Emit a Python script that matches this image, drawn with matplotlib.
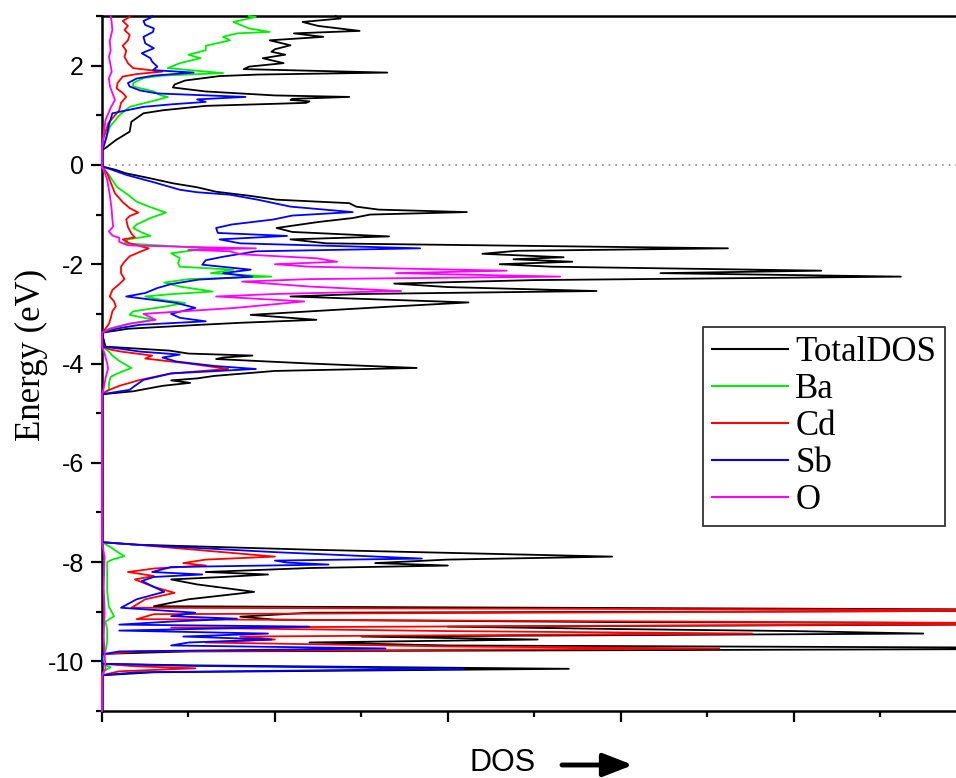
import matplotlib
matplotlib.use("Agg")
import matplotlib.pyplot as plt
from matplotlib.ticker import MultipleLocator

plt.rcParams['axes.unicode_minus'] = False

# Projected density of states: energy (eV) and DOS (arb. units) per species
total_E = [3.00, 2.95, 2.88, 2.80, 2.70, 2.65, 2.58, 2.51, 2.41, 2.33, 2.28, 2.22, 2.15, 2.05, 1.98, 1.93,
           1.86, 1.82, 1.79, 1.70, 1.62, 1.56, 1.48, 1.40, 1.37, 1.33, 1.31, 1.28, 1.25, 1.19, 1.10, 1.04,
           0.87, 0.67, 0.50, 0.34, 0.30,
           -0.03, -0.10, -0.17, -0.27, -0.37, -0.45, -0.54, -0.62, -0.70, -0.77, -0.84, -0.90, -0.95, -1.00,
           -1.07, -1.15, -1.27, -1.35, -1.44, -1.50, -1.58, -1.68, -1.73, -1.79, -1.86, -1.90, -1.95, -2.00,
           -2.05, -2.13, -2.18, -2.25, -2.32, -2.39, -2.46, -2.54, -2.60, -2.65, -2.77, -2.86, -2.95, -3.02,
           -3.12, -3.18, -3.22, -3.30, -3.38,
           -3.66, -3.70, -3.74, -3.80, -3.84, -3.88, -3.91, -4.00, -4.09, -4.15, -4.25, -4.30, -4.34, -4.39,
           -4.45, -4.56, -4.62,
           -7.60, -7.65, -7.75, -7.89, -7.95, -8.02, -8.07, -8.12, -8.20, -8.25, -8.30, -8.35, -8.45, -8.60,
           -8.75, -8.89, -8.94, -8.97, -9.02, -9.10, -9.16, -9.21, -9.24, -9.30, -9.35, -9.39, -9.44, -9.50,
           -9.56, -9.62, -9.68, -9.74, -9.80, -9.85, -10.05, -10.08, -10.15, -10.22, -10.28, -11.00]
total_dos = [13.5, 13.8, 11.6, 12.5, 14.9, 11.1, 12.8, 9.7, 10.9, 10.0, 9.8, 10.6, 9.3, 10.5, 8.5, 8.2,
             16.5, 9.0, 6.8, 4.8, 4.2, 4.1, 6.0, 10.0, 14.3, 11.0, 10.9, 12.0, 11.8, 6.0, 3.5, 2.4,
             1.7, 1.6, 0.8, 0.2, 0.0,
             0.0, 0.8, 1.4, 2.8, 4.1, 5.5, 6.6, 8.5, 10.1, 14.3, 14.7, 16.0, 21.1, 15.5,
             14.5, 12.5, 10.1, 11.0, 16.6, 10.9, 13.0, 36.2, 24.0, 22.0, 26.7, 23.8, 27.2, 23.0,
             26.0, 41.6, 32.3, 46.2, 25.0, 16.9, 20.0, 28.6, 15.0, 10.9, 21.2, 16.4, 12.0, 8.6,
             12.4, 8.0, 5.7, 1.5, 0.0,
             0.2, 2.0, 3.9, 5.0, 8.7, 7.0, 6.6, 12.0, 18.2, 10.0, 6.5, 5.5, 4.0, 5.1,
             3.5, 1.8, 0.0,
             0.0, 2.0, 12.0, 29.5, 20.0, 15.8, 20.0, 12.0, 6.0, 9.6, 7.0, 4.0, 5.5, 8.8,
             5.0, 3.0, 40.0, 65.0, 12.0, 8.0, 10.0, 30.0, 65.0, 20.0, 30.0, 40.0, 47.5, 15.0,
             25.2, 12.0, 20.0, 65.0, 5.0, 0.0, 0.0, 5.0, 27.0, 3.0, 0.0, 0.0]

ba_E = [3.00, 2.98, 2.88, 2.75, 2.68, 2.65, 2.58, 2.51, 2.40, 2.31, 2.22, 2.15, 2.05, 1.95, 1.85, 1.80,
        1.75, 1.65, 1.58, 1.48, 1.40, 1.37, 1.31, 1.25, 1.17, 1.00, 0.77, 0.50, 0.35,
        -0.05, -0.20, -0.44, -0.60, -0.74, -0.85, -0.96, -1.07, -1.20, -1.27, -1.36, -1.43, -1.50, -1.58,
        -1.68, -1.78, -1.88, -1.98, -2.05, -2.11, -2.18, -2.25, -2.30, -2.37, -2.45, -2.55, -2.60, -2.65,
        -2.72, -2.78, -2.85, -2.95, -3.02, -3.12, -3.20, -3.30, -3.38,
        -3.66, -3.76, -3.84, -3.95, -4.09, -4.20, -4.27, -4.40, -4.53, -4.62,
        -7.60, -7.70, -7.82, -7.88, -7.95, -8.00, -8.30, -8.60, -8.90, -9.09, -9.20, -9.35, -9.45, -9.60,
        -9.80, -10.05, -10.12, -10.20, -10.30, -11.00]
ba_dos = [8.5, 8.9, 7.6, 8.5, 9.7, 7.8, 7.0, 7.4, 6.0, 6.0, 5.0, 5.7, 4.5, 3.8, 7.0, 3.5,
          2.4, 1.8, 1.8, 3.0, 3.4, 3.8, 3.2, 2.5, 1.6, 1.0, 0.46, 0.2, 0.0,
          0.0, 0.4, 0.85, 1.5, 2.0, 2.8, 3.7, 2.8, 2.0, 1.8, 2.3, 2.8, 1.5, 1.3,
          6.2, 4.0, 4.5, 4.4, 4.5, 7.6, 6.3, 9.8, 5.0, 3.6, 4.5, 6.4, 4.1, 2.5,
          3.5, 4.8, 3.7, 1.8, 1.6, 3.0, 1.5, 0.4, 0.0,
          0.0, 0.4, 0.6, 1.0, 1.7, 0.9, 0.5, 0.4, 0.4, 0.0,
          0.0, 0.5, 1.0, 1.3, 0.6, 0.3, 0.3, 0.3, 0.4, 0.7, 0.2, 0.3, 0.3, 0.3,
          0.2, 0.0, 0.5, 0.1, 0.0, 0.0]

cd_E = [3.00, 2.98, 2.90, 2.80, 2.72, 2.62, 2.51, 2.40, 2.30, 2.18, 2.05, 1.95, 1.88, 1.83, 1.78, 1.65,
        1.54, 1.45, 1.37, 1.25, 1.10, 0.84, 0.55, 0.40,
        -0.03, -0.17, -0.35, -0.57, -0.75, -0.87, -0.96, -1.03, -1.10, -1.25, -1.38, -1.46, -1.50, -1.58,
        -1.68, -1.75, -1.84, -1.95, -2.05, -2.18, -2.30, -2.40, -2.52, -2.65, -2.75, -2.85, -2.95, -3.09,
        -3.20, -3.30, -3.38,
        -3.66, -3.72, -3.76, -3.84, -3.90, -4.00, -4.11, -4.20, -4.33, -4.45, -4.55, -4.62,
        -7.60, -7.65, -7.80, -7.89, -7.95, -8.02, -8.07, -8.13, -8.20, -8.28, -8.35, -8.50, -8.62, -8.75,
        -8.92, -8.97, -9.05, -9.15, -9.24, -9.32, -9.39, -9.44, -9.50, -9.56, -9.62, -9.70, -9.74, -9.80,
        -9.86, -10.05, -10.10, -10.14, -10.20, -10.28, -11.00]
cd_dos = [1.6, 1.6, 1.2, 1.5, 1.3, 1.6, 1.5, 1.2, 1.4, 1.3, 1.5, 1.8, 3.5, 2.0, 1.2, 0.9,
          0.85, 1.2, 1.4, 1.1, 1.0, 0.36, 0.1, 0.0,
          0.0, 0.3, 0.5, 0.75, 1.2, 1.6, 2.1, 1.6, 1.4, 1.5, 1.7, 1.9, 1.2, 1.6,
          2.7, 2.2, 1.6, 1.3, 1.1, 1.1, 1.3, 1.0, 0.6, 0.45, 0.7, 0.8, 0.6, 0.5,
          0.4, 0.2, 0.0,
          0.0, 0.5, 1.1, 2.9, 2.5, 5.0, 7.3, 4.0, 2.2, 1.0, 0.3, 0.0,
          0.0, 2.0, 7.0, 10.0, 6.0, 4.7, 6.0, 3.0, 1.5, 3.0, 1.9, 3.0, 4.2, 2.5,
          1.7, 60.0, 3.0, 2.0, 60.0, 4.0, 20.0, 37.6, 8.0, 10.0, 6.0, 20.0, 35.7, 2.0,
          0.0, 0.0, 2.0, 5.4, 1.0, 0.0, 0.0]

sb_E = [3.00, 2.98, 2.90, 2.82, 2.75, 2.68, 2.58, 2.45, 2.35, 2.25, 2.15, 2.08, 1.98, 1.91, 1.86, 1.80,
        1.74, 1.65, 1.58, 1.50, 1.44, 1.37, 1.32, 1.27, 1.22, 1.17, 1.04, 0.80, 0.55, 0.37, 0.30,
        -0.03, -0.10, -0.20, -0.35, -0.45, -0.50, -0.55, -0.60, -0.70, -0.84, -0.95, -1.02, -1.10, -1.20,
        -1.27, -1.37, -1.43, -1.50, -1.58, -1.68, -1.74, -1.85, -1.92, -2.01, -2.11, -2.18, -2.25, -2.31,
        -2.40, -2.48, -2.58, -2.65, -2.72, -2.78, -2.88, -3.00, -3.08, -3.15, -3.22, -3.30, -3.38,
        -3.66, -3.70, -3.76, -3.82, -3.88, -3.96, -4.05, -4.11, -4.20, -4.33, -4.45, -4.53, -4.62,
        -7.60, -7.65, -7.80, -7.93, -7.97, -8.01, -8.05, -8.10, -8.20, -8.25, -8.30, -8.38, -8.50, -8.60,
        -8.75, -8.92, -9.02, -9.09, -9.14, -9.20, -9.26, -9.30, -9.38, -9.44, -9.50, -9.56, -9.62, -9.68,
        -9.74, -9.80, -9.86, -10.05, -10.09, -10.15, -10.22, -10.28, -11.00]
sb_dos = [2.9, 2.9, 2.4, 2.5, 3.0, 2.95, 2.4, 2.5, 3.0, 2.3, 2.8, 2.9, 3.2, 2.95, 5.3, 3.0,
          2.0, 1.5, 1.6, 2.2, 3.2, 8.3, 5.5, 6.0, 4.0, 2.4, 0.6, 0.4, 0.25, 0.1, 0.0,
          0.0, 0.6, 1.4, 3.0, 4.0, 4.5, 5.5, 7.4, 9.0, 10.9, 14.5, 11.0, 9.9, 7.5,
          6.6, 6.7, 10.7, 6.8, 8.0, 18.4, 8.9, 7.0, 6.0, 5.8, 8.6, 7.0, 8.7, 5.6,
          4.0, 3.2, 2.5, 1.4, 3.0, 4.3, 5.4, 4.0, 4.5, 6.0, 2.2, 0.8, 0.0,
          0.0, 1.0, 2.2, 4.5, 3.5, 4.3, 6.5, 8.9, 4.0, 2.4, 1.9, 1.6, 0.0,
          0.0, 2.0, 10.0, 18.5, 10.0, 10.7, 13.1, 4.0, 2.9, 5.8, 3.0, 2.3, 3.0, 3.6,
          2.0, 1.1, 5.4, 4.0, 7.8, 3.9, 1.0, 12.0, 1.0, 9.6, 4.7, 9.8, 5.0, 4.0,
          16.4, 1.0, 0.0, 0.0, 5.0, 20.9, 2.0, 0.0, 0.0]

o_E = [3.00, 2.90, 2.72, 2.50, 2.30, 2.18, 2.00, 1.88, 1.75, 1.58, 1.45, 1.31, 1.15, 0.90, 0.50, 0.30,
       -0.02, -0.15, -0.30, -0.60, -0.90, -1.10, -1.24, -1.34, -1.42, -1.47, -1.55, -1.62, -1.66, -1.68,
       -1.71, -1.74, -1.80, -1.88, -1.95, -2.00, -2.05, -2.13, -2.18, -2.25, -2.30, -2.35, -2.45, -2.54,
       -2.60, -2.65, -2.75, -2.88, -3.00, -3.12, -3.20, -3.30, -3.38,
       -3.66, -3.80, -4.00, -4.10, -4.30, -4.50, -4.62,
       -7.60, -7.90, -8.50, -9.00, -9.50, -10.15, -10.30, -11.00]
o_dos = [0.5, 0.55, 0.6, 0.45, 0.5, 0.4, 0.5, 0.56, 0.4, 0.46, 0.6, 0.75, 0.5, 0.2, 0.05, 0.0,
         0.0, 0.15, 0.3, 0.45, 0.56, 0.6, 0.65, 0.4, 0.6, 1.0, 1.0, 1.5, 6.0, 8.9,
         5.0, 7.4, 8.0, 12.4, 13.6, 10.0, 12.0, 23.4, 17.0, 26.5, 12.0, 8.1, 12.0, 17.3,
         10.0, 6.6, 11.7, 7.7, 2.4, 3.1, 1.6, 0.5, 0.0,
         0.0, 0.15, 0.3, 0.35, 0.2, 0.1, 0.0,
         0.0, 0.15, 0.1, 0.15, 0.1, 0.2, 0.0, 0.0]

series = [
    ("TotalDOS", total_E, total_dos, "#000000"),
    ("Ba", ba_E, ba_dos, "#00ee00"),
    ("Cd", cd_E, cd_dos, "#ff0000"),
    ("Sb", sb_E, sb_dos, "#0000ff"),
    ("O", o_E, o_dos, "#ff00ff"),
]

W, H = 956, 778
fig = plt.figure(figsize=(W / 100, H / 100), dpi=100)
ax_left, ax_right, ax_top, ax_bottom = 102, 966.5, 16, 711
ax = fig.add_axes([ax_left / W, (H - ax_bottom) / H, (ax_right - ax_left) / W, (ax_bottom - ax_top) / H])

for name, e, d, c in series:
    ax.plot(d, e, color=c, lw=1.3, label=name, zorder=3, clip_on=False)

ax.axhline(0, color="#8a8a8a", lw=1.2, ls=(0, (1, 3)), zorder=1)

ax.set_xlim(0, 50)
ax.set_ylim(-11, 3)
ax.xaxis.set_major_locator(MultipleLocator(10))
ax.xaxis.set_minor_locator(MultipleLocator(5))
ax.yaxis.set_major_locator(MultipleLocator(2))
ax.yaxis.set_minor_locator(MultipleLocator(1))
ax.tick_params(axis="both", which="major", direction="out", length=8, width=1.6)
ax.tick_params(axis="both", which="minor", direction="out", length=4.5, width=1.6)
ax.tick_params(axis="x", labelbottom=False)
ax.tick_params(axis="y", labelsize=18, pad=5)
for lab in ax.get_yticklabels():
    lab.set_fontfamily("Liberation Sans")
for s in ("left", "bottom", "top"):
    ax.spines[s].set_linewidth(1.8)
ax.spines["right"].set_visible(False)

ax.set_ylabel("Energy (eV)", fontsize=25, family="Liberation Serif")
ax.yaxis.set_label_coords(-0.0625, 0.512)

leg = ax.legend(loc="upper right", bbox_to_anchor=(0.975, 0.5525), borderaxespad=0,
                prop={"family": "Liberation Serif", "size": 25}, handlelength=2.2,
                handletextpad=0.2, labelspacing=0.12, borderpad=0.25, fancybox=False,
                framealpha=1, edgecolor="#333333")
leg.get_frame().set_linewidth(1.3)
for ln in leg.get_lines():
    ln.set_linewidth(1.5)

fig.text(503 / W, (H - 763) / H, "DOS", ha="center", va="center", fontsize=22,
         family="Liberation Sans")
ax.annotate("", xy=(633, H - 765), xytext=(562, H - 765), xycoords="figure pixels",
            textcoords="figure pixels",
            arrowprops=dict(arrowstyle="-|>,head_length=0.9,head_width=0.35", lw=3.5, color="black",
                            shrinkA=0, shrinkB=0, mutation_scale=20), annotation_clip=False)

fig.savefig("out.png", dpi=100)
